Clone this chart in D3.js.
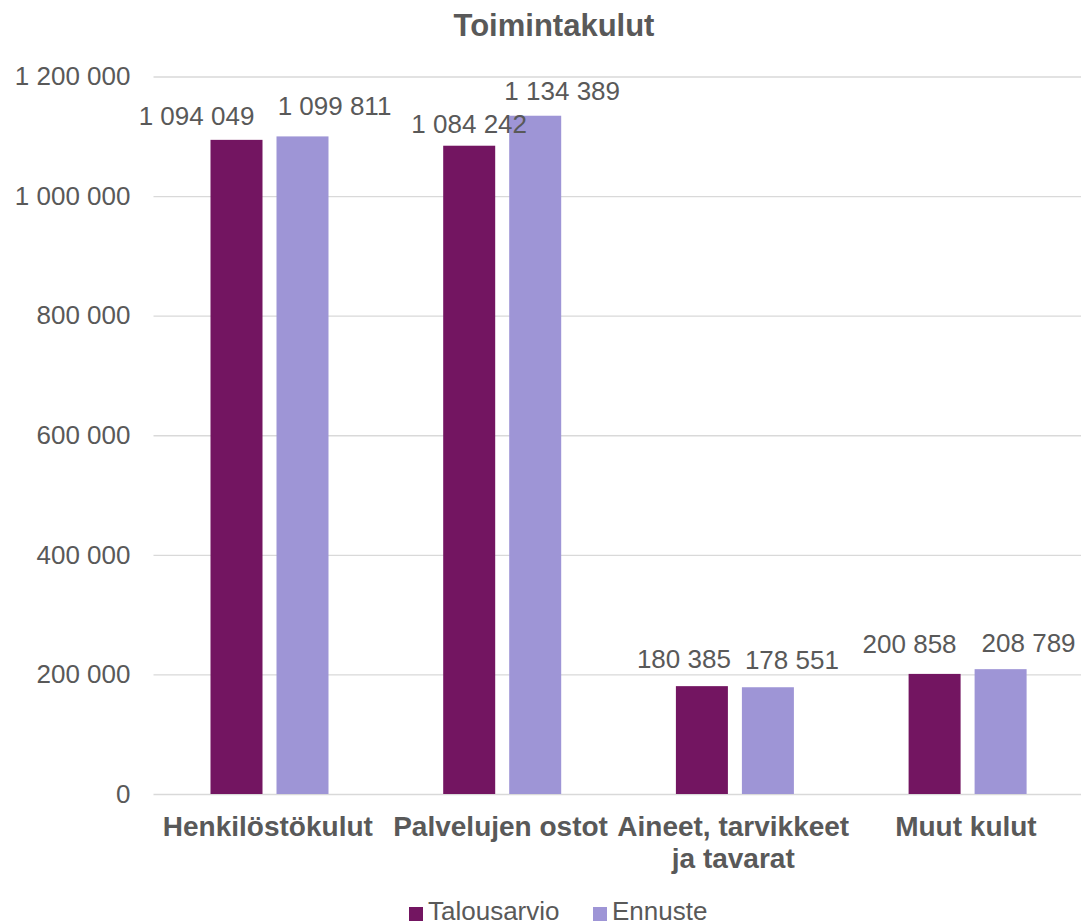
<!DOCTYPE html>
<html>
<head>
<meta charset="utf-8">
<script src="https://cdn.jsdelivr.net/npm/d3@7"></script>
<style>
  body { margin: 0; background: #fff; }
  text { font-family: "Liberation Sans", Arial, sans-serif; fill: #595959; }
</style>
</head>
<body>
<div id="kaavio"></div>
<script>
// data
var kategoriat = ["Henkilöstökulut", "Palvelujen ostot", "Aineet, tarvikkeet\nja tavarat", "Muut kulut"];
var sarjat = ["Talousarvio", "Ennuste"];
var talousarvio = [1094049, 1084242, 180385, 200858];
var ennuste = [1099811, 1134389, 178551, 208789];
var yTicks = [0, 200000, 400000, 600000, 800000, 1000000, 1200000];

// siirrot arvojen teksteille (Excel siirtää ne päällekkäisyyden takia)
var siirrotX = [[-40, 32], [0, 27], [-18, 24], [-25, 28]];
var siirrotY = [[-15, -21], [-13, -16], [-18, -18], [-21, -17]];

var leveys = 1081, korkeus = 924;
var varit = ["#731561", "#9e95d6"];

var svg = d3.select("#kaavio")
  .append("svg")
  .attr("width", leveys)
  .attr("height", korkeus);

var y = d3.scaleLinear()
  .domain([0, 1200000])
  .range([794, 76.5]);

var x0 = d3.scaleBand()
  .domain(kategoriat)
  .range([153.5, 1084.3]);

var x1 = d3.scaleBand()
  .domain(sarjat)
  .range([57, 175])
  .paddingInner(14 / 66);

var muoto = function(v) {
  return d3.format(",")(v).replace(/,/g, " ");
};

// otsikko
svg.append("text")
  .attr("x", 554)
  .attr("y", 36)
  .attr("text-anchor", "middle")
  .attr("font-size", "31px")
  .attr("font-weight", "bold")
  .text("Toimintakulut");

// ruudukko + y-akselin tekstit
var yAkseli = d3.axisLeft(y)
  .tickValues(yTicks)
  .tickSize(-(leveys - 153.5))
  .tickFormat(muoto);

var gy = svg.append("g")
  .attr("transform", "translate(153.5,0)")
  .call(yAkseli);
gy.select(".domain").remove();
gy.selectAll(".tick line")
  .attr("stroke", "#d9d9d9")
  .attr("stroke-width", 1.4);
gy.selectAll(".tick text")
  .attr("x", -23)
  .attr("font-size", "26px")
  .attr("font-family", "Liberation Sans, Arial, sans-serif")
  .attr("fill", "#595959");

// pylväät
var rivit = kategoriat.map(function(k, i) {
  return [
    { kat: k, sarja: sarjat[0], arvo: talousarvio[i], i: i, j: 0 },
    { kat: k, sarja: sarjat[1], arvo: ennuste[i], i: i, j: 1 }
  ];
});

var ryhmat = svg.selectAll(".ryhma")
  .data(rivit)
  .enter()
  .append("g")
  .attr("class", "ryhma")
  .attr("transform", function(d) { return "translate(" + x0(d[0].kat) + ",0)"; });

ryhmat.selectAll("rect")
  .data(function(d) { return d; })
  .enter()
  .append("rect")
  .attr("x", function(d) { return x1(d.sarja); })
  .attr("y", function(d) { return y(d.arvo); })
  .attr("width", x1.bandwidth())
  .attr("height", function(d) { return y(0) - y(d.arvo); })
  .attr("fill", function(d) { return varit[d.j]; });

ryhmat.selectAll(".arvo")
  .data(function(d) { return d; })
  .enter()
  .append("text")
  .attr("class", "arvo")
  .attr("text-anchor", "middle")
  .attr("font-size", "26px")
  .attr("x", function(d) { return x1(d.sarja) + x1.bandwidth() / 2 + siirrotX[d.i][d.j]; })
  .attr("y", function(d) { return y(d.arvo) + siirrotY[d.i][d.j]; })
  .text(function(d) { return muoto(d.arvo); });

// x-akselin tekstit
var katTekstit = svg.selectAll(".kat")
  .data(kategoriat)
  .enter()
  .append("text")
  .attr("class", "kat")
  .attr("text-anchor", "middle")
  .attr("font-size", "28px")
  .attr("font-weight", "bold")
  .attr("x", function(d) { return x0(d) + x0.bandwidth() / 2 - 2; })
  .attr("y", 836);

katTekstit.selectAll("tspan")
  .data(function(d) { return d.split("\n"); })
  .enter()
  .append("tspan")
  .attr("x", function() { return d3.select(this.parentNode).attr("x"); })
  .attr("dy", function(d, i) { return i === 0 ? 0 : 32; })
  .text(function(d) { return d; });

// selite
var selite = svg.append("g").attr("transform", "translate(409,0)");
var paikat = [0, 184];
sarjat.forEach(function(s, j) {
  selite.append("rect")
    .attr("x", paikat[j])
    .attr("y", 907)
    .attr("width", 14)
    .attr("height", 14)
    .attr("fill", varit[j]);
  selite.append("text")
    .attr("x", paikat[j] + 19)
    .attr("y", 920)
    .attr("font-size", "26px")
    .text(s);
});
</script>
</body>
</html>
